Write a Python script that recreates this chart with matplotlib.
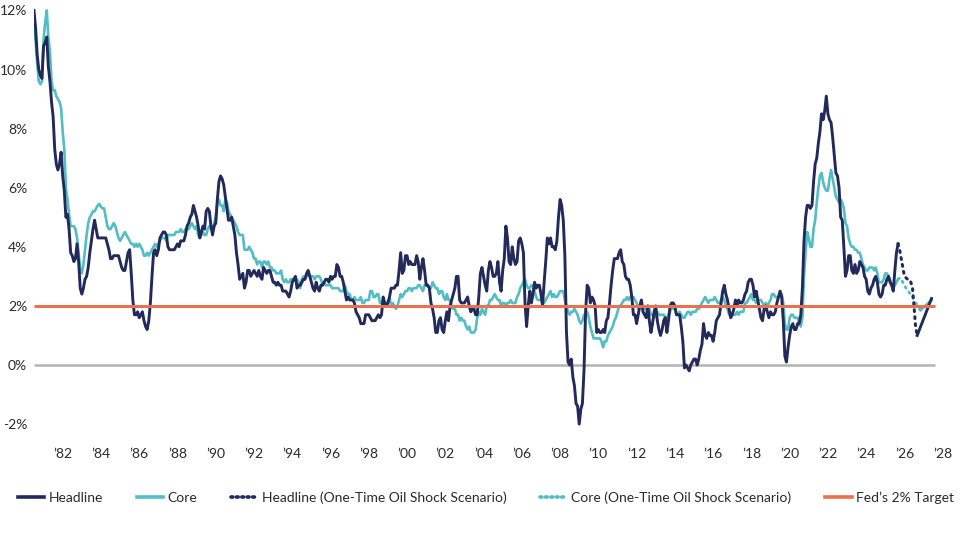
import numpy as np
import pandas as pd
import matplotlib.pyplot as plt
from matplotlib.lines import Line2D

plt.rcParams['font.family'] = ['Lato', 'DejaVu Sans']

# monthly y/y %, Jan 1981 - Mar 2026
headline = [
    12.0, 11.4, 10.5, 10.0, 9.8, 9.7, 10.8, 10.9, 11.1, 10.1, 9.6, 8.9,   # 1981
    8.4, 7.3, 6.8, 6.6, 6.8, 7.2, 6.4, 5.9, 5.0, 5.1, 4.6, 3.8,          # 1982
    3.7, 3.5, 3.6, 4.1, 3.5, 2.6, 2.4, 2.6, 2.9, 3.0, 3.3, 3.8,          # 1983
    4.2, 4.6, 4.9, 4.6, 4.3, 4.3, 4.3, 4.3, 4.3, 4.3, 4.1, 3.9,          # 1984
    3.6, 3.6, 3.7, 3.7, 3.7, 3.7, 3.5, 3.3, 3.2, 3.2, 3.5, 3.8,          # 1985
    3.9, 3.1, 2.2, 1.7, 1.7, 1.8, 1.6, 1.7, 1.8, 1.5, 1.3, 1.2,          # 1986
    1.5, 2.1, 3.0, 3.8, 3.9, 3.7, 3.9, 4.3, 4.4, 4.5, 4.5, 4.4,          # 1987
    4.0, 3.9, 3.9, 3.9, 3.9, 4.0, 4.1, 4.0, 4.2, 4.2, 4.2, 4.4,          # 1988
    4.7, 4.8, 5.0, 5.1, 5.4, 5.2, 5.0, 4.7, 4.3, 4.5, 4.7, 4.6,          # 1989
    5.2, 5.3, 5.2, 4.7, 4.4, 4.7, 4.8, 5.6, 6.2, 6.4, 6.3, 6.1,          # 1990
    5.7, 5.3, 4.9, 4.9, 5.0, 4.7, 4.4, 3.8, 3.4, 2.9, 3.0, 3.1,          # 1991
    2.6, 2.8, 3.2, 3.2, 3.0, 3.1, 3.2, 3.1, 3.0, 3.2, 3.0, 2.9,          # 1992
    3.3, 3.2, 3.1, 3.2, 3.2, 3.0, 2.8, 2.8, 2.7, 2.8, 2.7, 2.7,          # 1993
    2.5, 2.5, 2.5, 2.4, 2.3, 2.5, 2.8, 2.9, 3.0, 2.6, 2.7, 2.7,          # 1994
    2.8, 2.9, 2.9, 3.1, 3.2, 3.0, 2.8, 2.6, 2.5, 2.8, 2.6, 2.5,          # 1995
    2.7, 2.7, 2.8, 2.9, 2.9, 2.8, 3.0, 2.9, 3.0, 3.0, 3.4, 3.3,          # 1996
    3.0, 3.0, 2.8, 2.5, 2.2, 2.3, 2.2, 2.2, 2.2, 2.1, 1.8, 1.7,          # 1997
    1.6, 1.4, 1.4, 1.4, 1.7, 1.7, 1.7, 1.6, 1.5, 1.5, 1.5, 1.6,          # 1998
    1.7, 1.6, 1.7, 2.3, 2.1, 2.0, 2.1, 2.3, 2.6, 2.6, 2.6, 2.7,          # 1999
    2.7, 3.2, 3.8, 3.1, 3.2, 3.7, 3.7, 3.4, 3.5, 3.4, 3.4, 3.4,          # 2000
    3.7, 3.5, 2.9, 3.3, 3.6, 3.2, 2.7, 2.7, 2.6, 2.1, 1.9, 1.6,          # 2001
    1.1, 1.1, 1.5, 1.6, 1.2, 1.1, 1.5, 1.8, 1.5, 2.0, 2.2, 2.4,          # 2002
    2.6, 3.0, 3.0, 2.2, 2.1, 2.1, 2.1, 2.2, 2.3, 2.0, 1.8, 1.9,          # 2003
    1.9, 1.7, 1.7, 2.3, 3.1, 3.3, 3.0, 2.7, 2.5, 3.2, 3.5, 3.3,          # 2004
    3.0, 3.0, 3.1, 3.5, 2.8, 2.5, 3.2, 3.6, 4.7, 4.3, 3.5, 3.4,          # 2005
    4.0, 3.6, 3.4, 3.5, 4.2, 4.3, 4.1, 3.8, 2.1, 1.3, 2.0, 2.5,          # 2006
    2.1, 2.4, 2.8, 2.6, 2.7, 2.7, 2.4, 2.0, 2.8, 3.5, 4.3, 4.1,          # 2007
    4.3, 4.0, 4.0, 3.9, 4.2, 5.0, 5.6, 5.4, 4.9, 3.7, 1.1, 0.1,          # 2008
    0.0, 0.2, -0.4, -0.7, -1.3, -1.4, -2.0, -1.5, -1.3, -0.2, 1.8, 2.7,  # 2009
    2.6, 2.1, 2.3, 2.2, 2.0, 1.1, 1.2, 1.1, 1.1, 1.2, 1.1, 1.5,          # 2010
    1.6, 2.1, 2.7, 3.2, 3.6, 3.6, 3.6, 3.8, 3.9, 3.5, 3.4, 3.0,          # 2011
    2.9, 2.9, 2.7, 2.3, 1.7, 1.7, 1.4, 1.7, 2.0, 2.2, 1.8, 1.7,          # 2012
    1.6, 2.0, 1.5, 1.1, 1.4, 1.8, 2.0, 1.5, 1.2, 1.0, 1.2, 1.5,          # 2013
    1.6, 1.1, 1.5, 2.0, 2.1, 2.1, 2.0, 1.7, 1.7, 1.7, 1.3, 0.8,          # 2014
    -0.1, 0.0, -0.1, -0.2, 0.0, 0.1, 0.2, 0.2, 0.0, 0.2, 0.5, 0.7,       # 2015
    1.4, 1.0, 0.9, 1.1, 1.0, 1.0, 0.8, 1.1, 1.5, 1.6, 1.7, 2.1,          # 2016
    2.5, 2.7, 2.4, 2.2, 1.9, 1.6, 1.7, 1.9, 2.2, 2.0, 2.2, 2.1,          # 2017
    2.1, 2.2, 2.4, 2.5, 2.8, 2.9, 2.9, 2.7, 2.3, 2.5, 2.2, 1.9,          # 2018
    1.6, 1.5, 1.9, 2.0, 1.8, 1.6, 1.8, 1.7, 1.7, 1.8, 2.1, 2.3,          # 2019
    2.5, 2.3, 1.5, 0.3, 0.1, 0.6, 1.0, 1.3, 1.4, 1.2, 1.2, 1.4,          # 2020
    1.4, 1.7, 2.6, 4.2, 5.0, 5.4, 5.4, 5.3, 5.4, 6.2, 6.8, 7.0,          # 2021
    7.5, 7.9, 8.5, 8.3, 8.6, 9.1, 8.5, 8.3, 8.2, 7.7, 7.1, 6.5,          # 2022
    6.4, 6.0, 5.0, 4.9, 4.0, 3.0, 3.2, 3.7, 3.7, 3.2, 3.1, 3.4,          # 2023
    3.1, 3.2, 3.5, 3.4, 3.3, 3.0, 2.9, 2.5, 2.4, 2.6, 2.7, 2.9,          # 2024
    3.0, 2.8, 2.4, 2.3, 2.4, 2.7, 2.7, 2.9, 3.0, 2.8, 2.7, 2.5,          # 2025
    3.2, 3.8, 4.1,                                                       # 2026
]
core = [
    11.4, 11.0, 10.2, 9.6, 9.5, 9.6, 11.0, 11.6, 12.0, 11.1, 10.6, 9.6,  # 1981
    9.3, 9.3, 9.1, 9.0, 8.9, 8.7, 7.9, 7.3, 6.0, 5.6, 5.1, 4.7,          # 1982
    4.7, 4.7, 4.6, 4.3, 3.8, 3.2, 3.1, 3.4, 3.9, 4.4, 4.8, 5.0,          # 1983
    5.1, 5.2, 5.2, 5.3, 5.4, 5.45, 5.35, 5.3, 5.3, 5.0, 4.7, 4.6,        # 1984
    4.6, 4.7, 4.8, 4.7, 4.5, 4.3, 4.2, 4.3, 4.4, 4.5, 4.4, 4.3,          # 1985
    4.2, 4.1, 4.1, 4.0, 4.1, 4.0, 4.1, 4.0, 3.9, 3.7, 3.7, 3.8,          # 1986
    3.7, 3.8, 3.9, 4.0, 4.1, 4.0, 4.1, 4.2, 4.3, 4.3, 4.3, 4.2,          # 1987
    4.4, 4.4, 4.4, 4.4, 4.4, 4.5, 4.5, 4.5, 4.6, 4.5, 4.5, 4.6,          # 1988
    4.6, 4.6, 4.7, 4.8, 4.7, 4.6, 4.7, 4.4, 4.3, 4.4, 4.5, 4.4,          # 1989
    4.4, 4.6, 4.7, 4.6, 4.6, 4.8, 5.0, 5.5, 5.6, 5.4, 5.4, 5.2,          # 1990
    5.6, 5.5, 5.2, 5.1, 5.0, 4.9, 4.8, 4.7, 4.5, 4.4, 4.4, 4.4,          # 1991
    3.9, 3.9, 3.9, 4.0, 3.9, 3.8, 3.6, 3.6, 3.4, 3.5, 3.5, 3.3,          # 1992
    3.5, 3.5, 3.4, 3.5, 3.3, 3.3, 3.2, 3.2, 3.1, 3.1, 3.1, 3.2,          # 1993
    2.9, 2.8, 2.9, 2.8, 2.8, 2.9, 2.9, 2.9, 2.9, 2.9, 2.8, 2.6,          # 1994
    2.9, 3.0, 3.0, 3.0, 3.1, 3.0, 3.0, 3.0, 2.9, 3.0, 3.0, 3.0,          # 1995
    2.9, 2.7, 2.8, 2.7, 2.7, 2.7, 2.7, 2.6, 2.6, 2.6, 2.6, 2.6,          # 1996
    2.5, 2.5, 2.5, 2.7, 2.5, 2.4, 2.4, 2.2, 2.2, 2.3, 2.2, 2.2,          # 1997
    2.2, 2.3, 2.1, 2.1, 2.2, 2.2, 2.2, 2.5, 2.5, 2.3, 2.3, 2.4,          # 1998
    2.4, 2.1, 2.1, 2.2, 2.0, 2.1, 2.1, 2.3, 2.0, 2.1, 2.0, 1.9,          # 1999
    2.0, 2.2, 2.4, 2.3, 2.4, 2.5, 2.5, 2.6, 2.6, 2.5, 2.6, 2.6,          # 2000
    2.6, 2.7, 2.7, 2.6, 2.5, 2.7, 2.7, 2.7, 2.6, 2.6, 2.8, 2.7,          # 2001
    2.6, 2.6, 2.4, 2.5, 2.5, 2.3, 2.2, 2.4, 2.2, 2.2, 2.0, 1.9,          # 2002
    1.9, 1.7, 1.7, 1.5, 1.6, 1.5, 1.5, 1.3, 1.2, 1.3, 1.1, 1.1,          # 2003
    1.1, 1.2, 1.6, 1.8, 1.7, 1.9, 1.8, 1.7, 2.0, 2.0, 2.2, 2.2,          # 2004
    2.3, 2.4, 2.3, 2.2, 2.2, 2.0, 2.1, 2.1, 2.0, 2.1, 2.1, 2.2,          # 2005
    2.1, 2.1, 2.1, 2.3, 2.4, 2.6, 2.7, 2.8, 2.9, 2.7, 2.6, 2.6,          # 2006
    2.7, 2.7, 2.5, 2.3, 2.2, 2.2, 2.2, 2.1, 2.1, 2.2, 2.3, 2.4,          # 2007
    2.5, 2.3, 2.4, 2.3, 2.3, 2.4, 2.5, 2.5, 2.5, 2.2, 2.0, 1.8,          # 2008
    1.7, 1.8, 1.8, 1.9, 1.8, 1.7, 1.5, 1.4, 1.5, 1.7, 1.7, 1.8,          # 2009
    1.6, 1.3, 1.1, 0.9, 0.9, 0.9, 0.9, 0.9, 0.8, 0.6, 0.8, 0.8,          # 2010
    1.0, 1.1, 1.2, 1.3, 1.5, 1.6, 1.8, 2.0, 2.0, 2.1, 2.2, 2.2,          # 2011
    2.3, 2.2, 2.3, 2.3, 2.3, 2.2, 2.1, 1.9, 2.0, 2.0, 1.9, 1.9,          # 2012
    1.9, 2.0, 1.9, 1.7, 1.7, 1.6, 1.7, 1.8, 1.7, 1.7, 1.7, 1.7,          # 2013
    1.6, 1.6, 1.7, 1.8, 2.0, 1.9, 1.9, 1.7, 1.7, 1.8, 1.7, 1.6,          # 2014
    1.6, 1.7, 1.8, 1.8, 1.7, 1.8, 1.8, 1.8, 1.9, 1.9, 2.0, 2.1,          # 2015
    2.2, 2.3, 2.2, 2.1, 2.2, 2.2, 2.2, 2.3, 2.2, 2.1, 2.1, 2.2,          # 2016
    2.3, 2.2, 2.0, 1.9, 1.7, 1.7, 1.7, 1.7, 1.7, 1.8, 1.7, 1.8,          # 2017
    1.8, 1.8, 2.1, 2.1, 2.2, 2.3, 2.4, 2.2, 2.2, 2.1, 2.2, 2.2,          # 2018
    2.2, 2.1, 2.0, 2.1, 2.0, 2.1, 2.2, 2.4, 2.4, 2.3, 2.3, 2.3,          # 2019
    2.3, 2.4, 2.1, 1.4, 1.2, 1.2, 1.6, 1.7, 1.7, 1.6, 1.6, 1.6,          # 2020
    1.4, 1.3, 1.6, 3.0, 3.8, 4.5, 4.3, 4.0, 4.0, 4.6, 4.9, 5.5,          # 2021
    6.0, 6.4, 6.5, 6.2, 6.0, 5.9, 5.9, 6.3, 6.6, 6.3, 6.0, 5.7,          # 2022
    5.6, 5.5, 5.6, 5.5, 5.3, 4.8, 4.7, 4.3, 4.1, 4.0, 4.0, 3.9,          # 2023
    3.9, 3.8, 3.8, 3.6, 3.4, 3.3, 3.2, 3.2, 3.3, 3.3, 3.3, 3.2,          # 2024
    3.3, 3.1, 2.8, 2.8, 2.8, 2.9, 3.1, 3.1, 3.0, 2.9, 2.7, 2.6,          # 2025
    2.7, 2.8, 2.9,                                                       # 2026
]

# one-time oil shock scenario
headline_shock_months = ["2026-03", "2026-04", "2026-05", "2026-06", "2026-07", "2026-08",
                         "2026-09", "2026-10", "2026-11", "2026-12", "2027-01", "2027-02", "2027-03"]
headline_shock = [4.1, 3.9, 3.6, 3.3, 3.0, 2.95, 2.9, 2.9, 2.8, 2.65, 2.0, 1.3, 1.0]
core_shock_months = ["2026-03", "2026-04", "2026-05", "2026-06", "2026-07", "2026-08", "2026-09",
                     "2026-10", "2026-11", "2026-12", "2027-01", "2027-02", "2027-03", "2027-04", "2027-05"]
core_shock = [2.9, 2.95, 2.9, 2.8, 2.7, 2.6, 2.55, 2.45, 2.4, 2.3, 2.2, 2.1, 2.05, 1.95, 1.85]
headline_rebound_months = ["2027-03", "2027-12"]
headline_rebound = [1.0, 2.25]
core_rebound_months = ["2027-05", "2027-12"]
core_rebound = [1.85, 2.2]

fed_target = 2.0
tick_years = list(range(1982, 2029, 2))
y_ticks = [-2, 0, 2, 4, 6, 8, 10, 12]

NAVY = "#222a5c"
TEAL = "#52bec4"
ORANGE = "#e8714f"
GREY = "#b3b3b3"
TXT = "#2a2a2a"


def to_year(months):
    d = pd.to_datetime(months)
    return d.year + (d.month - 1) / 12.0


t_hist = to_year(pd.date_range("1981-01-01", periods=len(headline), freq="MS"))

fig = plt.figure(figsize=(9.6, 5.34), dpi=100)
ax = fig.add_axes([34 / 960, 1 - 430 / 534, (944.6 - 34) / 960, (430 - 4.5) / 534])

ax.hlines(0, 1981, 2028.1, color=GREY, lw=1.8, zorder=1)
ax.hlines(fed_target, 1981, 2028.1, color=ORANGE, lw=2.2, zorder=4)

ax.plot(t_hist, core, color=TEAL, lw=1.9, zorder=2, solid_joinstyle="round")
ax.plot(t_hist, headline, color=NAVY, lw=2.1, zorder=3, solid_joinstyle="round")

dot = (0, (0.6, 1.7))
ax.plot(to_year(core_shock_months), core_shock, color=TEAL, lw=2.0, ls=dot,
        dash_capstyle="round", zorder=2)
ax.plot(to_year(core_rebound_months), core_rebound, color=TEAL, lw=1.9, zorder=2)
ax.plot(to_year(headline_shock_months), headline_shock, color=NAVY, lw=2.2, ls=dot,
        dash_capstyle="round", zorder=3)
ax.plot(to_year(headline_rebound_months), headline_rebound, color=NAVY, lw=2.1, zorder=3)

ax.set_xlim(1981, 2028.6)
ax.set_ylim(-2.2, 12.2)
ax.set_xticks([y + 0.5 for y in tick_years])
ax.set_xticklabels([f"\u2019{y % 100:02d}" for y in tick_years])
ax.set_yticks(y_ticks)
ax.set_yticklabels([f"{v}%" for v in y_ticks])
ax.tick_params(axis="both", length=0, labelsize=10, colors=TXT)
ax.tick_params(axis="y", pad=5)
ax.tick_params(axis="x", pad=13)
for s in ax.spines.values():
    s.set_visible(False)

handles = [
    Line2D([], [], color=NAVY, lw=2.6),
    Line2D([], [], color=TEAL, lw=2.6),
    Line2D([], [], color=NAVY, lw=2.6, ls=(0, (0.5, 1.0)), dash_capstyle="round"),
    Line2D([], [], color=TEAL, lw=2.6, ls=(0, (0.5, 1.0)), dash_capstyle="round"),
    Line2D([], [], color=ORANGE, lw=2.6),
]
labels = ["Headline", "Core", "Headline (One-Time Oil Shock Scenario)",
          "Core (One-Time Oil Shock Scenario)", "Fed\u2019s 2% Target"]
fig.legend(handles, labels, loc="center", bbox_to_anchor=(0.506, 1 - 498 / 534), ncol=5,
           frameon=False, fontsize=10, handlelength=1.9, handletextpad=0.3,
           columnspacing=2.45, labelcolor=TXT)

fig.savefig("out.png", dpi=100, facecolor="white")
